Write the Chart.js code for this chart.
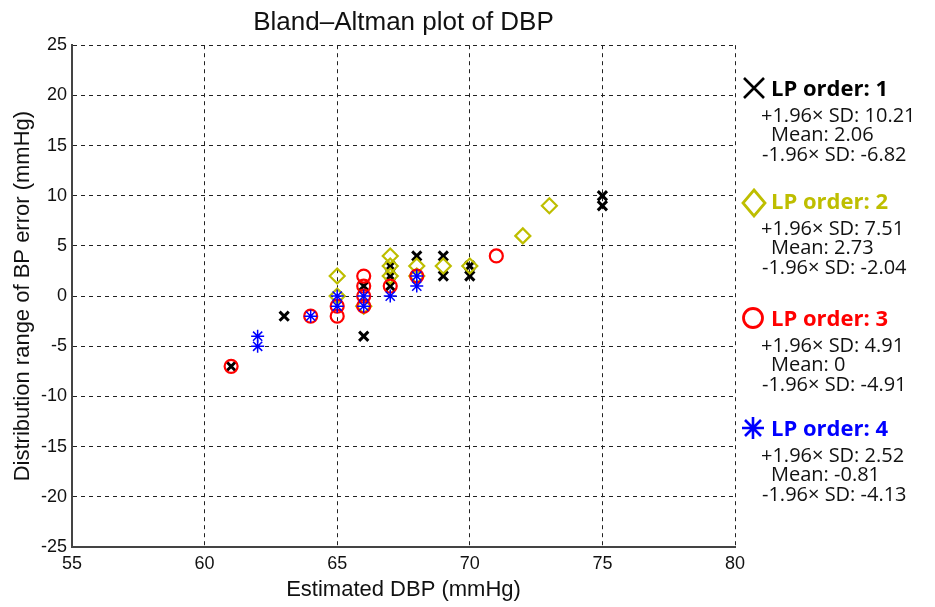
<!DOCTYPE html>
<html>
<head>
<meta charset="utf-8">
<script src="https://cdn.jsdelivr.net/npm/chart.js@4/dist/chart.umd.min.js"></script>
<style>
  body { margin: 0; background: #fff; }
  #wrap { position: relative; width: 935px; height: 607px; }
  #legend { position: absolute; left: 0; top: 0; font-family: "Open Sans", sans-serif; color: #111; }
  .hdr { position: absolute; font-weight: bold; font-size: 22px; line-height: 26px; white-space: nowrap; }
  .hdr svg { position: absolute; left: -30px; top: 1px; }
  .sub { position: absolute; font-size: 20px; line-height: 20px; white-space: nowrap; }
</style>
</head>
<body>
<div id="wrap">
  <canvas id="baCanvas" width="935" height="607"></canvas>
  <div id="legend"></div>
</div>
<script>
// LP order 1 (x markers)
const lp1X = [61, 63, 66, 66, 67, 67, 67, 68, 69, 69, 70, 70, 75, 75];
const lp1Y = [-7, -2, 1, -4, 3, 2, 1, 4, 4, 2, 3, 2, 10, 9];
// LP order 2 (diamonds)
const lp2X = [65, 65, 66, 67, 67, 67, 68, 68, 69, 70, 72, 73];
const lp2Y = [2, 0, -1, 4, 3, 2, 3, 2, 3, 3, 6, 9];
// LP order 3 (circles)
const lp3X = [61, 64, 65, 65, 66, 66, 66, 66, 67, 68, 71];
const lp3Y = [-7, -2, -1, -2, 2, 1, 0, -1, 1, 2, 4];
// LP order 4 (stars)
const lp4X = [62, 62, 64, 65, 65, 66, 66, 67, 68, 68];
const lp4Y = [-4, -5, -2, 0, -1, 0, -1, 0, 2, 1];

const seriesNames = ["LP order: 1", "LP order: 2", "LP order: 3", "LP order: 4"];
const upperLoA = ["10.21", "7.51", "4.91", "2.52"];
const meanDiff = ["2.06", "2.73", "0", "-0.81"];
const lowerLoA = ["-6.82", "-2.04", "-4.91", "-4.13"];

const xTicks = [55, 60, 65, 70, 75, 80];
const yTicks = [-25, -20, -15, -10, -5, 0, 5, 10, 15, 20, 25];

const colors = ["#000000", "#BEBE00", "#FF0000", "#0000FF"];

function pts(xs, ys) {
    return xs.map(function (x, i) { return { x: x, y: ys[i] }; });
}

const ctx = document.getElementById("baCanvas");

new Chart(ctx, {
    type: "scatter",
    data: {
        datasets: [
            { label: seriesNames[0], data: pts(lp1X, lp1Y), pointStyle: "crossRot", pointRadius: 6.5, borderColor: colors[0], pointBorderWidth: 3, backgroundColor: "transparent", order: 4 },
            { label: seriesNames[1], data: pts(lp2X, lp2Y), pointStyle: "rectRot", pointRadius: 7.5, borderColor: colors[1], pointBorderWidth: 2.2, backgroundColor: "transparent", order: 3 },
            { label: seriesNames[2], data: pts(lp3X, lp3Y), pointStyle: "circle", pointRadius: 6.5, borderColor: colors[2], pointBorderWidth: 2.2, backgroundColor: "transparent", order: 2 },
            { label: seriesNames[3], data: pts(lp4X, lp4Y), pointStyle: "star", pointRadius: 6.5, borderColor: colors[3], pointBorderWidth: 1.5, backgroundColor: "transparent", order: 1 }
        ]
    },
    options: {
        responsive: false,
        animation: false,
        events: [],
        layout: { padding: { left: 0, right: 200, top: 0, bottom: 0 } },
        plugins: {
            legend: { display: false },
            tooltip: { enabled: false },
            title: {
                display: true,
                text: "Bland\u2013Altman plot of DBP",
                fullSize: false,
                color: "#111",
                font: { family: "Liberation Sans, Arial, sans-serif", size: 26, weight: "normal" },
                padding: { top: 7, bottom: 7 }
            }
        },
        scales: {
            x: {
                type: "linear",
                min: xTicks[0],
                max: xTicks[xTicks.length - 1],
                afterBuildTicks: function (s) { s.ticks = xTicks.map(function (v) { return { value: v }; }); },
                afterFit: function (s) { s.height = 60; },
                grid: { color: "#222", lineWidth: 1, drawTicks: false },
                border: { color: "#444", width: 2, dash: [4, 4] },
                ticks: { color: "#111", padding: 6, font: { family: "Liberation Sans, Arial, sans-serif", size: 18 } },
                title: {
                    display: true,
                    text: "Estimated DBP (mmHg)",
                    color: "#111",
                    font: { family: "Liberation Sans, Arial, sans-serif", size: 22 },
                    padding: { top: 0, bottom: 4 }
                }
            },
            y: {
                type: "linear",
                min: yTicks[0],
                max: yTicks[yTicks.length - 1],
                afterBuildTicks: function (s) { s.ticks = yTicks.map(function (v) { return { value: v }; }); },
                afterFit: function (s) { s.width = 72; },
                grid: { color: "#222", lineWidth: 1, drawTicks: false },
                border: { color: "#444", width: 2, dash: [4, 4] },
                ticks: { color: "#111", padding: 5, font: { family: "Liberation Sans, Arial, sans-serif", size: 18 } },
                title: {
                    display: true,
                    text: "Distribution range of BP error (mmHg)",
                    color: "#111",
                    font: { family: "Liberation Sans, Arial, sans-serif", size: 22 },
                    padding: { top: 10, bottom: 0 }
                }
            }
        }
    }
});

// legend with the stats, on the right
const markerSvg = [
    '<svg width="26" height="26" viewBox="0 0 26 26"><path d="M3 3 L23 23 M23 3 L3 23" stroke="#000" stroke-width="2.6" fill="none"/></svg>',
    '<svg width="26" height="30" viewBox="0 0 26 30"><path d="M13 2 L24 15 L13 28 L2 15 Z" stroke="#BEBE00" stroke-width="2.8" fill="none"/></svg>',
    '<svg width="26" height="26" viewBox="0 0 26 26"><circle cx="12" cy="13" r="9.5" stroke="#FF0000" stroke-width="2.8" fill="none"/></svg>',
    '<svg width="26" height="26" viewBox="0 0 26 26"><path d="M12 2 L12 24 M1 13 L23 13 M4 5 L20 21 M20 5 L4 21" stroke="#0000FF" stroke-width="2.6" fill="none"/></svg>'
];
const blockTops = [74, 187, 304, 414];
const legend = document.getElementById("legend");
let html = "";
for (let i = 0; i < seriesNames.length; i++) {
    const t = blockTops[i];
    html += '<div class="hdr" style="left:771px;top:' + t + 'px;color:' + colors[i] + '">' + markerSvg[i] + seriesNames[i] + '</div>';
    html += '<div class="sub" style="left:761px;top:' + (t + 31) + 'px">+1.96\u00d7 SD: ' + upperLoA[i] + '</div>';
    html += '<div class="sub" style="left:771px;top:' + (t + 50) + 'px">Mean: ' + meanDiff[i] + '</div>';
    html += '<div class="sub" style="left:762px;top:' + (t + 70) + 'px">-1.96\u00d7 SD: ' + lowerLoA[i] + '</div>';
}
legend.innerHTML = html;
</script>
</body>
</html>
